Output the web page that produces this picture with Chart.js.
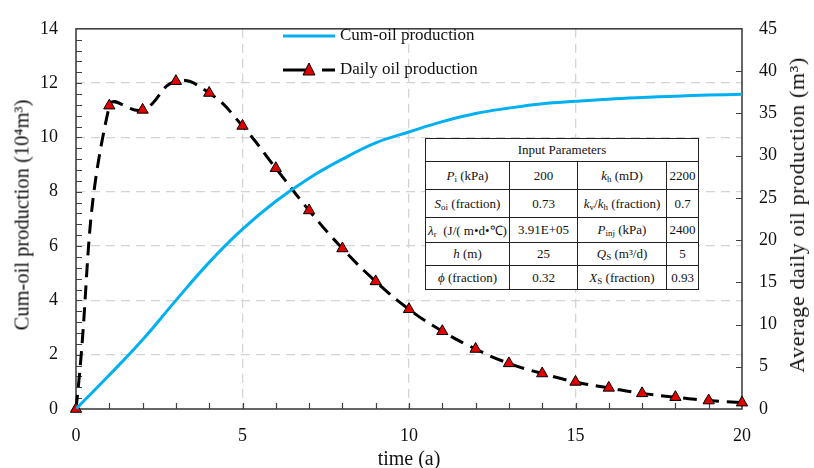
<!DOCTYPE html>
<html>
<head>
<meta charset="utf-8">
<script src="https://cdn.jsdelivr.net/npm/chart.js@4.4.1/dist/chart.umd.min.js"></script>
<style>
  body { margin: 0; background: #fff; }
  #wrap { position: relative; width: 814px; height: 468px; font-family: "Liberation Serif", "Times New Roman", serif; color: #111; }
  canvas { position: absolute; left: 0; top: 0; }
  .title { position: absolute; white-space: nowrap; font-size: 20px; font-family: "Liberation Serif", serif; }
  .leg { position: absolute; font-size: 17px; white-space: nowrap; font-family: "Liberation Serif", serif; }
  #params { position: absolute; left: 425px; top: 138px; width: 273px; border-collapse: collapse; table-layout: fixed; background: #fff; font-size: 13px; font-family: "Liberation Serif", serif; }
  #params td { border: 1px solid #222; text-align: center; padding: 0; white-space: nowrap; }
  #params i { font-style: italic; }
  #params sub { font-size: 9px; vertical-align: -2px; }
</style>
</head>
<body>
<div id="wrap">
  <canvas id="chart" width="814" height="468"></canvas>

  <svg style="position:absolute;left:280px;top:24px" width="62" height="60">
    <line x1="3" y1="12" x2="55" y2="12" stroke="#00b0f0" stroke-width="3"/>
    <line x1="3" y1="46" x2="28" y2="46" stroke="#000" stroke-width="3"/>
    <line x1="42" y1="46" x2="55" y2="46" stroke="#000" stroke-width="3"/>
    <polygon points="29,39 35,51 23,51" fill="#e00000" stroke="#000" stroke-width="1"/>
  </svg>
  <div class="leg" style="left:340px;top:25px">Cum-oil production</div>
  <div class="leg" style="left:340px;top:59px">Daily oil production</div>

  <div class="title" style="left:22px;top:215px;font-size:20.5px;transform:translate(-50%,-50%) rotate(-90deg)">Cum-oil production (10⁴m³)</div>
  <div class="title" style="left:797px;top:215px;font-size:22px;letter-spacing:0.6px;transform:translate(-50%,-50%) rotate(-90deg)">Average daily oil production (m³)</div>
  <div class="title" style="left:409px;top:458px;transform:translate(-50%,-50%)">time (a)</div>

  <table id="params">
    <colgroup><col style="width:84px"><col style="width:68px"><col style="width:89px"><col style="width:32px"></colgroup>
    <tr style="height:23px"><td colspan="4">Input Parameters</td></tr>
    <tr style="height:28px"><td><i>P</i><sub>i</sub> (kPa)</td><td>200</td><td><i>k</i><sub>h</sub> (mD)</td><td>2200</td></tr>
    <tr style="height:28px"><td><i>S</i><sub>oi</sub> (fraction)</td><td>0.73</td><td><i>k</i><sub>v</sub>/<i>k</i><sub>h</sub> (fraction)</td><td>0.7</td></tr>
    <tr style="height:25px"><td><i>λ</i><sub>r</sub>&nbsp; (J/( m•d•℃)</td><td>3.91E+05</td><td><i>P</i><sub>inj</sub> (kPa)</td><td>2400</td></tr>
    <tr style="height:23px"><td><i>h</i> (m)</td><td>25</td><td><i>Q</i><sub>S</sub> (m³/d)</td><td>5</td></tr>
    <tr style="height:24px"><td><i>ϕ</i> (fraction)</td><td>0.32</td><td><i>X</i><sub>S</sub> (fraction)</td><td>0.93</td></tr>
  </table>
</div>

<script>
// time in years
const years = [0, 1, 2, 3, 4, 5, 6, 7, 8, 9, 10, 11, 12, 13, 14, 15, 16, 17, 18, 19, 20];
// cumulative oil, 10^4 m3 (left axis)
const cumOil = [0, 1.25, 2.55, 4.0, 5.4, 6.62, 7.65, 8.5, 9.2, 9.8, 10.2, 10.58, 10.88, 11.08, 11.24, 11.33, 11.41, 11.47, 11.52, 11.56, 11.59];
// average daily oil, m3 (right axis)
const dailyOil = [0, 35.9, 35.4, 38.8, 37.4, 33.5, 28.5, 23.5, 19.0, 15.1, 11.8, 9.2, 7.1, 5.4, 4.2, 3.2, 2.5, 1.85, 1.4, 1.0, 0.75];

const xTicks = [0, 5, 10, 15, 20];
const leftTicks = [0, 2, 4, 6, 8, 10, 12, 14];
const rightTicks = [0, 5, 10, 15, 20, 25, 30, 35, 40, 45];

const tickFont = { family: '"Liberation Serif", "Times New Roman", serif', size: 18 };

// box frame and inward tick marks
const frame = {
    id: 'frame',
    beforeDatasetsDraw(chart) {
        const { ctx, chartArea: a, scales } = chart;
        ctx.save();
        ctx.strokeStyle = '#404040';
        ctx.lineWidth = 1.2;
        ctx.beginPath();
        for (let v = 1; v < 20; v++) {
            const x = Math.round(scales.x.getPixelForValue(v)) + 0.5;
            ctx.moveTo(x, a.bottom); ctx.lineTo(x, a.bottom - 6);
        }
        for (let i = 1; i < 35; i++) {
            const y = Math.round(scales.y.getPixelForValue(i * 0.4)) + 0.5;
            ctx.moveTo(a.left, y); ctx.lineTo(a.left + 6, y);
        }
        for (let v = 5; v < 45; v += 5) {
            const y = Math.round(scales.y1.getPixelForValue(v)) + 0.5;
            ctx.moveTo(a.right, y); ctx.lineTo(a.right - 6, y);
        }
        ctx.stroke();
        ctx.lineWidth = 1.6;
        ctx.strokeRect(a.left, a.top, a.right - a.left, a.bottom - a.top);
        ctx.restore();
    }
};

const chartGet = document.getElementById('chart');
const chartRender = new Chart(chartGet, {
    type: 'line',
    data: {
        labels: years,
        datasets: [{
            label: 'Cum-oil production',
            data: years.map((t, i) => ({ x: t, y: cumOil[i] })),
            yAxisID: 'y',
            borderColor: '#00b0f0',
            borderWidth: 3,
            pointRadius: 0,
            tension: 0.4,
            fill: false
        }, {
            label: 'Daily oil production',
            data: years.map((t, i) => ({ x: t, y: dailyOil[i] })),
            yAxisID: 'y1',
            borderColor: '#000',
            borderWidth: 3,
            borderDash: [14, 8],
            pointStyle: 'triangle',
            pointRadius: 6.5,
            pointBackgroundColor: '#e00000',
            pointBorderColor: '#000',
            pointBorderWidth: 1,
            tension: 0.45,
            clip: false,
            fill: false
        }]
    },
    options: {
        responsive: false,
        animation: false,
        layout: { padding: { top: 20 } },
        plugins: { legend: { display: false }, tooltip: { enabled: false } },
        scales: {
            x: {
                type: 'linear',
                min: 0, max: 20,
                afterBuildTicks: s => { s.ticks = xTicks.map(v => ({ value: v })); },
                afterFit: s => { s.height = 59; },
                ticks: { font: tickFont, color: '#111', padding: 16, maxRotation: 0 },
                grid: {
                    drawTicks: false,
                    color: c => (c.tick && (c.tick.value === 0 || c.tick.value === 20)) ? 'rgba(0,0,0,0)' : '#d4d4d4',
                    lineWidth: 1.3
                },
                border: { display: false, dash: [9, 6] }
            },
            y: {
                position: 'left',
                min: 0, max: 14,
                afterBuildTicks: s => { s.ticks = leftTicks.map(v => ({ value: v })); },
                afterFit: s => { s.width = 76; },
                ticks: { font: tickFont, color: '#111', padding: 18 },
                grid: {
                    drawTicks: false,
                    color: c => (c.tick && (c.tick.value === 0 || c.tick.value === 14)) ? 'rgba(0,0,0,0)' : '#d4d4d4',
                    lineWidth: 1.3
                },
                border: { display: false, dash: [9, 6] }
            },
            y1: {
                position: 'right',
                min: 0, max: 45,
                afterBuildTicks: s => { s.ticks = rightTicks.map(v => ({ value: v })); },
                afterFit: s => { s.width = 72; },
                ticks: { font: tickFont, color: '#111', padding: 17 },
                grid: { display: false, drawTicks: false },
                border: { display: false }
            }
        }
    },
    plugins: [frame]
});
</script>
</body>
</html>
